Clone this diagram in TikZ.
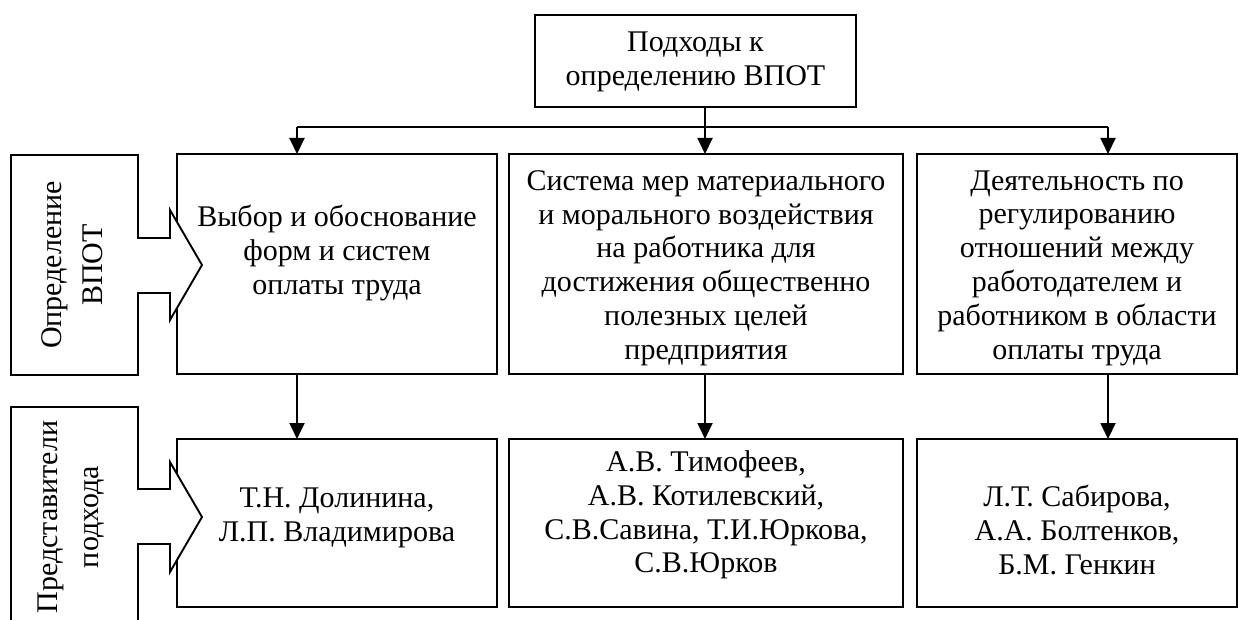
\documentclass[tikz,border=0pt]{standalone}
\usepackage{fontspec}
\setmainfont{Liberation Serif}
\usetikzlibrary{arrows.meta}
\begin{document}
\begin{tikzpicture}[x=1pt,y=1pt,
  every node/.style={font=\fontsize{30}{33.8}\selectfont},
  boxed/.style={draw, line width=1.9pt, inner sep=0pt, outer sep=0pt},
  txt/.style={align=center, inner sep=0pt},
  side/.style={rotate=90, align=center, inner sep=0pt,
    font=\fontsize{30}{41}\selectfont},
  link/.style={line width=1.9pt},
  arr/.style={line width=1.9pt, -{Triangle[width=15pt,length=16pt]}},
  pointer/.style={draw, line width=1.9pt, fill=white, line join=miter}]
\useasboundingbox (0,0) rectangle (1238,-620);

% header
\node[boxed, minimum width=321pt, minimum height=92pt] (top) at (695.5,-61) {};
\node[txt] (topt) at ([yshift=-1pt]top.center) {Подходы к\\определению ВПОТ};

% row of definitions
\node[boxed, minimum width=320pt, minimum height=220pt] (a1) at (337,-264) {};
\node[boxed, minimum width=394pt, minimum height=220pt] (a2) at (706,-264) {};
\node[boxed, minimum width=320pt, minimum height=220pt] (a3) at (1077,-264) {};
\node[txt] (a1t) at ([yshift=11pt]a1.center)
  {Выбор и обоснование\\форм и систем\\оплаты труда};
\node[txt] (a2t) at ([yshift=-4pt]a2.center)
  {Система мер материального\\и морального воздействия\\на работника для\\достижения общественно\\полезных целей\\предприятия};
\node[txt] (a3t) at ([yshift=-4pt]a3.center)
  {Деятельность по\\регулированию\\отношений между\\работодателем и\\работником в области\\оплаты труда};

% row of authors
\node[boxed, minimum width=320pt, minimum height=168pt] (b1) at (337,-523) {};
\node[boxed, minimum width=394pt, minimum height=168pt] (b2) at (706,-523) {};
\node[boxed, minimum width=320pt, minimum height=168pt] (b3) at (1077,-523) {};
\node[txt] (b1t) at ([yshift=5pt]b1.center) {Т.Н. Долинина,\\Л.П. Владимирова};
\node[txt] (b2t) at ([yshift=8pt]b2.center)
  {А.В. Тимофеев,\\А.В. Котилевский,\\С.В.Савина, Т.И.Юркова,\\С.В.Юрков};
\node[txt] (b3t) at ([yshift=-7pt]b3.center)
  {Л.Т. Сабирова,\\А.А. Болтенков,\\Б.М. Генкин};

% row labels with pointers
\draw[pointer] (11,-155) -- (138,-155) -- (138,-238) -- (170,-238) -- (170,-210)
  -- (202,-265) -- (170,-320) -- (170,-293) -- (138,-293) -- (138,-375)
  -- (11,-375) -- cycle;
\node[side] (l1) at (72,-265) {Определение\\ВПОТ};

\draw[pointer] (11,-407) -- (138,-407) -- (138,-489) -- (170,-489) -- (170,-462)
  -- (202,-517) -- (170,-572) -- (170,-544) -- (138,-544) -- (138,-660)
  -- (11,-660) -- cycle;
\node[side] (l2) at (71,-517) {Представители\\подхода};

% connectors
\coordinate (j1) at (297,-127);
\coordinate (j2) at (705,-127);
\coordinate (j3) at (1108,-127);
\draw[link] (j1) -- (j3);
\draw[arr] (top.south -| j2) -- (a2.north -| j2);
\draw[arr] (j1) -- (a1.north -| j1);
\draw[arr] (j3) -- (a3.north -| j3);
\draw[arr] (a1.south -| j1) -- (b1.north -| j1);
\draw[arr] (a2.south -| j2) -- (b2.north -| j2);
\draw[arr] (a3.south -| j3) -- (b3.north -| j3);
\end{tikzpicture}
\end{document}
